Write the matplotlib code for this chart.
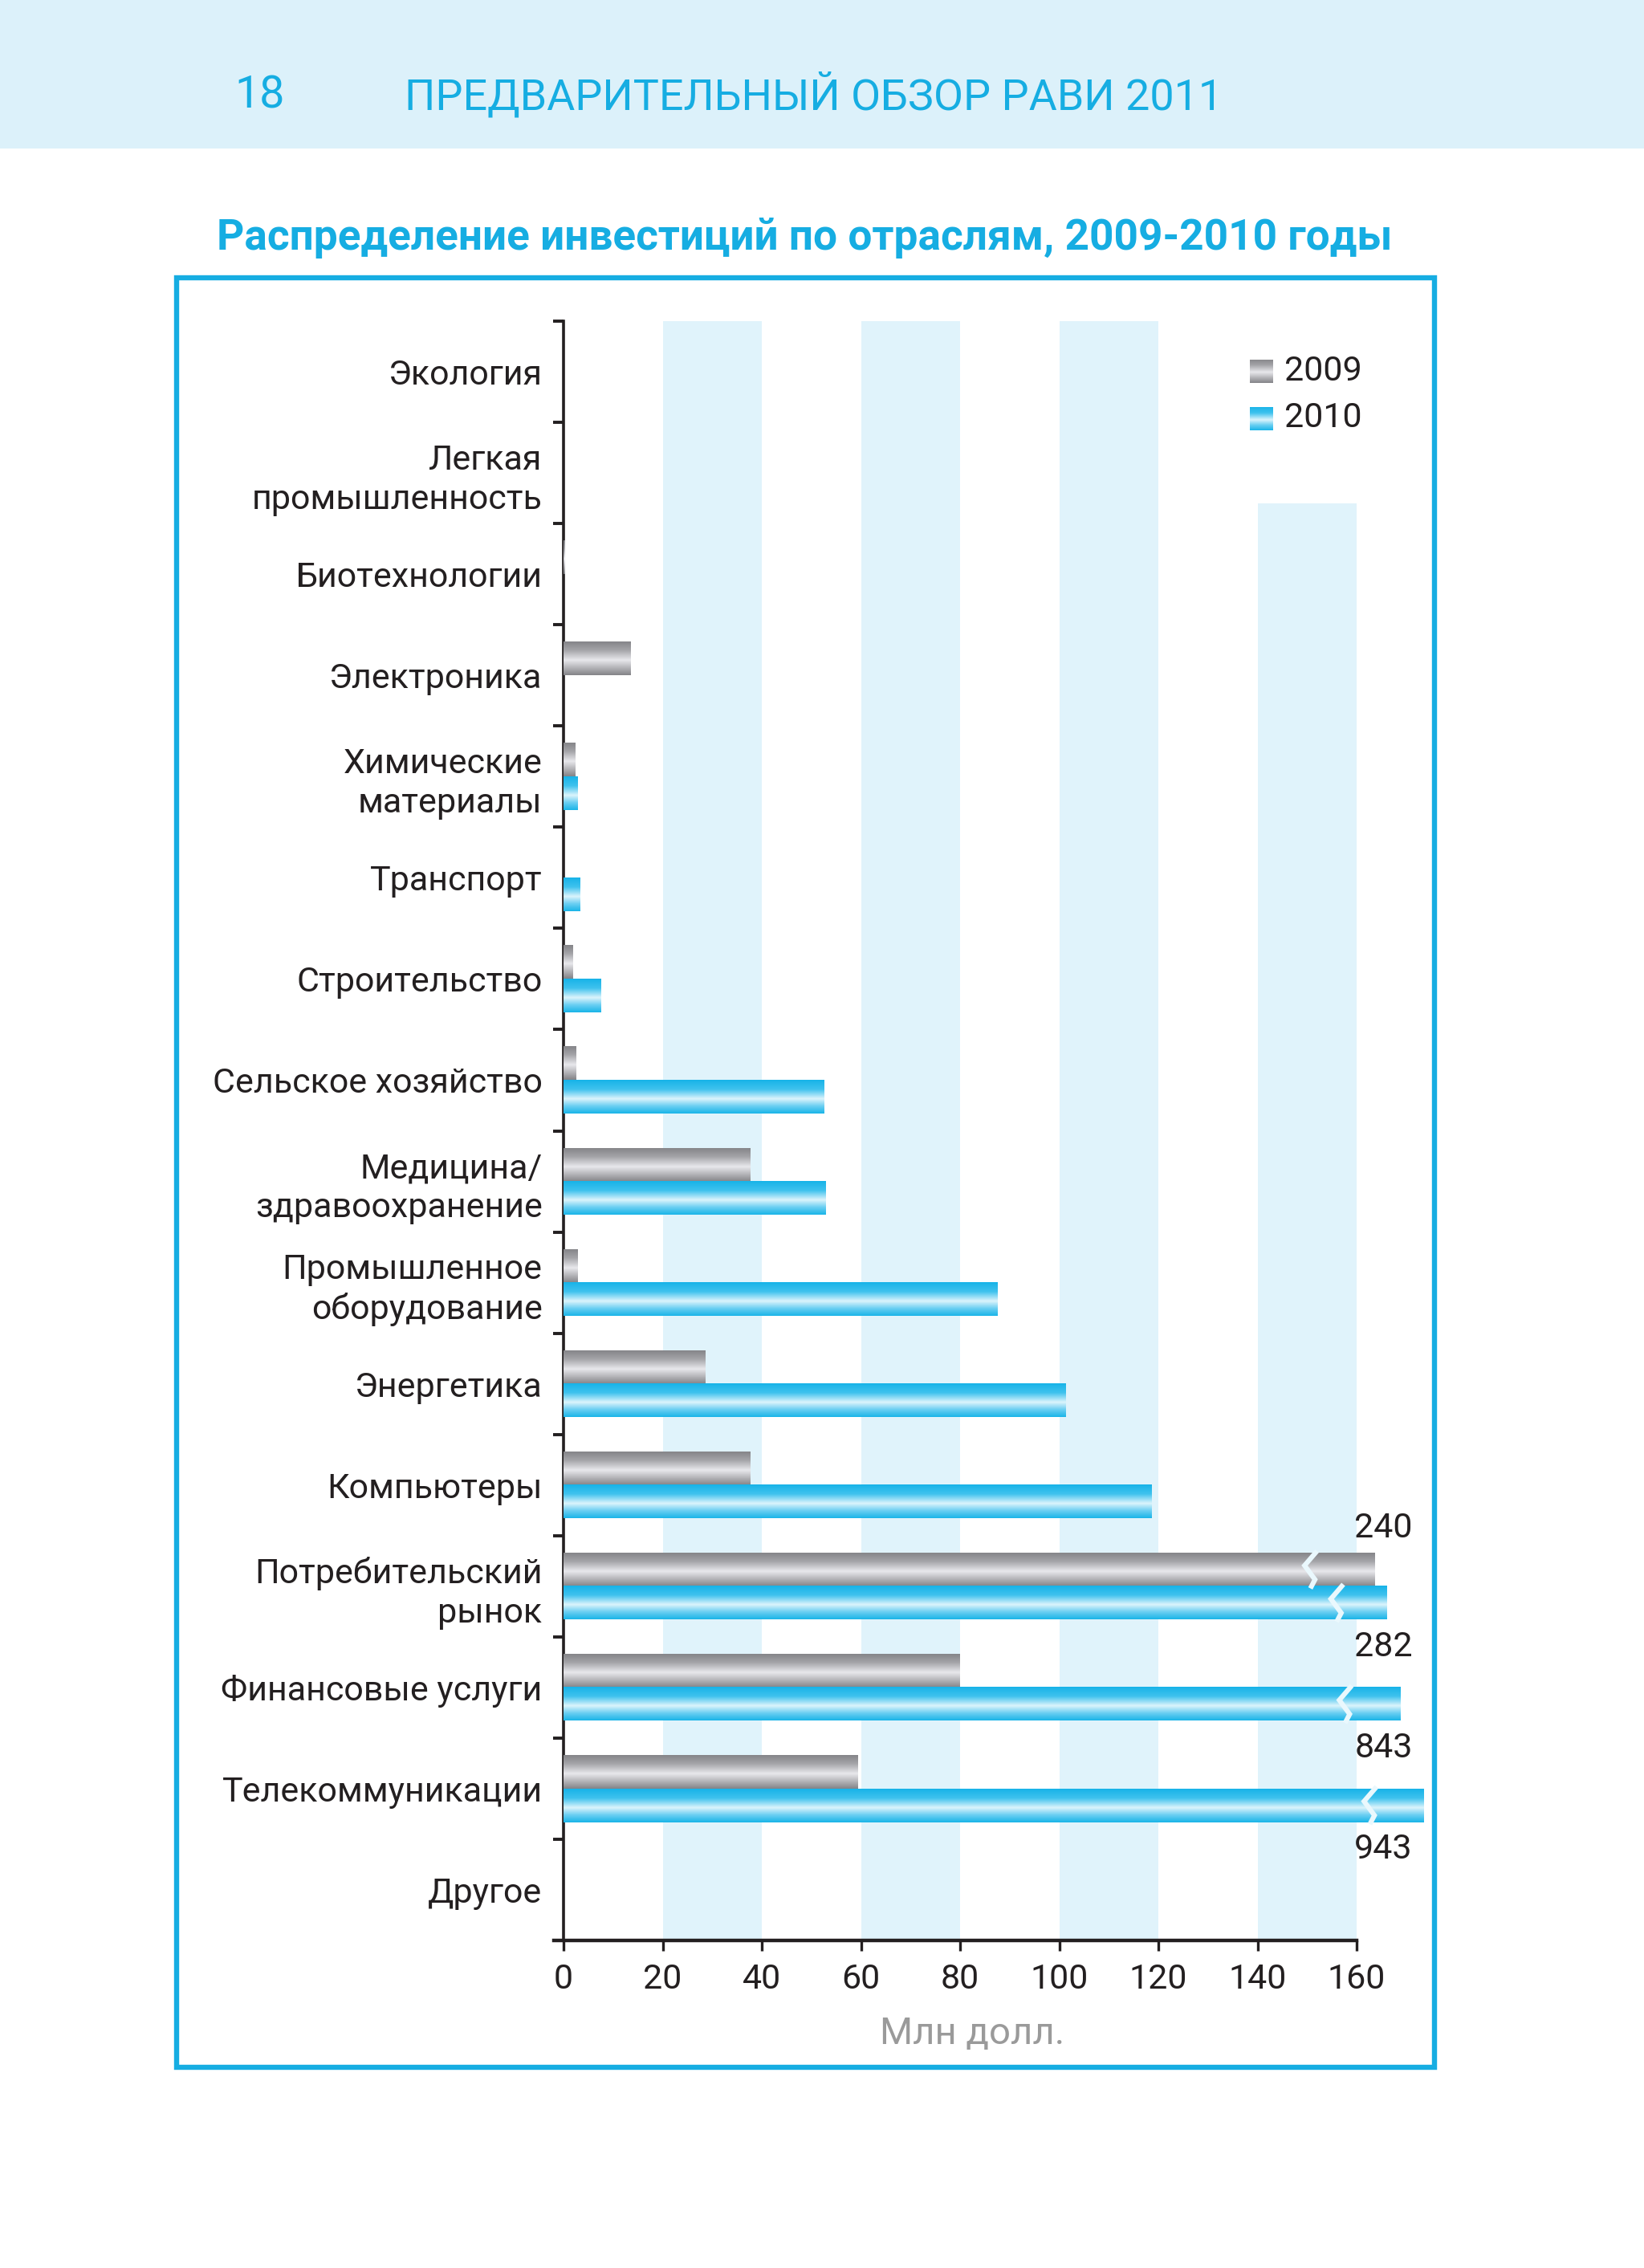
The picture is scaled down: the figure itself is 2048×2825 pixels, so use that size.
import numpy as np
import matplotlib
matplotlib.use('Agg')
import matplotlib.pyplot as plt
from matplotlib.colors import LinearSegmentedColormap
from matplotlib.patches import Rectangle

plt.rcParams['font.family'] = ['Roboto', 'DejaVu Sans']

categories = ['Экология', 'Легкая\nпромышленность', 'Биотехнологии', 'Электроника',
              'Химические\nматериалы', 'Транспорт', 'Строительство', 'Сельское хозяйство',
              'Медицина/\nздравоохранение', 'Промышленное\nоборудование', 'Энергетика',
              'Компьютеры', 'Потребительский\nрынок', 'Финансовые услуги',
              'Телекоммуникации', 'Другое']
v2009 = [0, 0, 0.3, 13.6, 2.3, 0, 1.9, 2.5, 37.7, 2.9, 28.6, 37.7, 240, 79.9, 59.3, 0]
v2010 = [0, 0, 0, 0, 2.9, 3.3, 7.5, 52.6, 52.8, 87.6, 101.3, 118.6, 282, 843, 943, 0]
# длины обрезанных столбцов на графике и место разрыва
cut2009 = {12: (163.7, 150.7)}
cut2010 = {12: (166.0, 156.0), 13: (168.9, 157.7), 14: (173.6, 162.7)}
xticks = [0, 20, 40, 60, 80, 100, 120, 140, 160]

BLUE = '#16ade2'
TXT = '#231f20'

gray_cm = LinearSegmentedColormap.from_list('g', [(0, '#858589'), (0.25, '#a3a3a7'), (0.55, '#e8e8ec'),
                                                  (0.78, '#b4b4b8'), (1, '#838387')])
blue_cm = LinearSegmentedColormap.from_list('b', [(0, '#17b3e8'), (0.28, '#3fc2ee'), (0.56, '#dcf4fc'),
                                                  (0.78, '#6acff2'), (1, '#19b4e8')])
grad = np.linspace(0, 1, 256).reshape(-1, 1)


def shown(vals, cuts):
    return [cuts[i][0] if i in cuts else v for i, v in enumerate(vals)]


def paint(ax, bars, cmap):
    for b in bars:
        if b.get_width() <= 0:
            continue
        x0, y0, w, h = b.get_x(), b.get_y(), b.get_width(), b.get_height()
        ax.imshow(grad, extent=(x0, x0 + w, y0 + h, y0), aspect='auto', cmap=cmap,
                  interpolation='bilinear', origin='upper', zorder=3, clip_on=False)


def zigzag(ax, xb, yc, h):
    top, bot = yc - h / 2, yc + h / 2
    xs = [xb + 1.0, xb - 1.2, xb + 0.9, xb + 0.2]
    ys = [top, top + 0.38 * h, top + 0.8 * h, bot]
    ax.plot(xs, ys, color='#eaf8fd', lw=2.2, zorder=4, solid_joinstyle='miter', clip_on=False)


fig = plt.figure(figsize=(10.24, 14.125), dpi=200)
fig.patches.append(Rectangle((0, 1 - 185 / 2825), 1, 185 / 2825, transform=fig.transFigure,
                             facecolor='#dcf1fa', edgecolor='none', zorder=0))
fig.text(292 / 2048, 1 - 119 / 2825, '18', color=BLUE, fontsize=20, va='center')
fig.text(504 / 2048, 1 - 119 / 2825, 'ПРЕДВАРИТЕЛЬНЫЙ ОБЗОР РАВИ 2011', color=BLUE,
         fontsize=19.4, va='center')
fig.text(1002 / 2048, 1 - 297 / 2825, 'Распределение инвестиций по отраслям, 2009-2010 годы',
         color=BLUE, fontsize=19.2, weight='bold', ha='center', va='center')
fig.patches.append(Rectangle((220 / 2048, 1 - 2575 / 2825), 1567 / 2048, 2229 / 2825,
                             transform=fig.transFigure, facecolor='none', edgecolor=BLUE,
                             lw=2.3, zorder=1))

ax = fig.add_axes([702 / 2048, 1 - 2417 / 2825, 176 * 6.175 / 2048, 2017 / 2825])
ax.patch.set_alpha(0)

y = np.arange(len(categories))
h = 0.33
for a, b in [(20, 40), (60, 80), (100, 120)]:
    ax.axvspan(a, b, color='#e0f3fb', lw=0, zorder=0)
ax.axvspan(140, 160, ymax=0.8875, color='#e0f3fb', lw=0, zorder=0)

b1 = ax.barh(y - h / 2, shown(v2009, cut2009), height=h, color='#b0b0b4', zorder=2, clip_on=False)
b2 = ax.barh(y + h / 2, shown(v2010, cut2010), height=h, color='#6acff2', zorder=2, clip_on=False)
paint(ax, b1, gray_cm)
paint(ax, b2, blue_cm)

for i, (w, xb) in cut2009.items():
    zigzag(ax, xb, i - h / 2, h)
for i, (w, xb) in cut2010.items():
    zigzag(ax, xb, i + h / 2, h)

for i, (w, xb) in cut2009.items():
    ax.text(165.4, i - 0.57, str(v2009[i]), ha='center', va='center', fontsize=15.5, color=TXT)
for i, (w, xb) in cut2010.items():
    ax.text(165.4, i + 0.6, str(v2010[i]), ha='center', va='center', fontsize=15.5, color=TXT)

ax.set_xlim(0, 176)
ax.set_ylim(len(categories) - 0.5, -0.5)

ax.set_yticks(np.arange(len(categories) + 1) - 0.5)
ax.set_yticklabels([])
ax.set_yticks(y, minor=True)
ax.set_yticklabels(categories, minor=True, fontsize=15.5, color=TXT, linespacing=1.25)
ax.tick_params(axis='y', which='major', length=4.7, width=1.4, color=TXT, direction='out')
ax.tick_params(axis='y', which='minor', length=0, pad=9.5)

ax.set_xticks(xticks)
ax.set_xticklabels([str(t) for t in xticks], fontsize=15.5, color=TXT)
ax.tick_params(axis='x', length=4.7, width=1.2, color=TXT, pad=5.5)
ax.set_xlabel('Млн долл.', fontsize=17, color='#9a9a9a', labelpad=9, x=82.5 / 176)

for s in ['top', 'right']:
    ax.spines[s].set_visible(False)
ax.spines['left'].set_linewidth(1.3)
ax.spines['left'].set_color(TXT)
ax.spines['bottom'].set_linewidth(1.6)
ax.spines['bottom'].set_color(TXT)
ax.spines['bottom'].set_bounds(-2, 160)

for k, (cm, lab, yy) in enumerate([(gray_cm, '2009', 462), (blue_cm, '2010', 521)]):
    lax = fig.add_axes([1557 / 2048, 1 - (yy + 15) / 2825, 29 / 2048, 29 / 2825])
    lax.imshow(grad, aspect='auto', cmap=cm, interpolation='bilinear')
    lax.axis('off')
    fig.text(1600 / 2048, 1 - yy / 2825, lab, fontsize=15.5, color=TXT, va='center')

plt.savefig('out.png', dpi=200)
